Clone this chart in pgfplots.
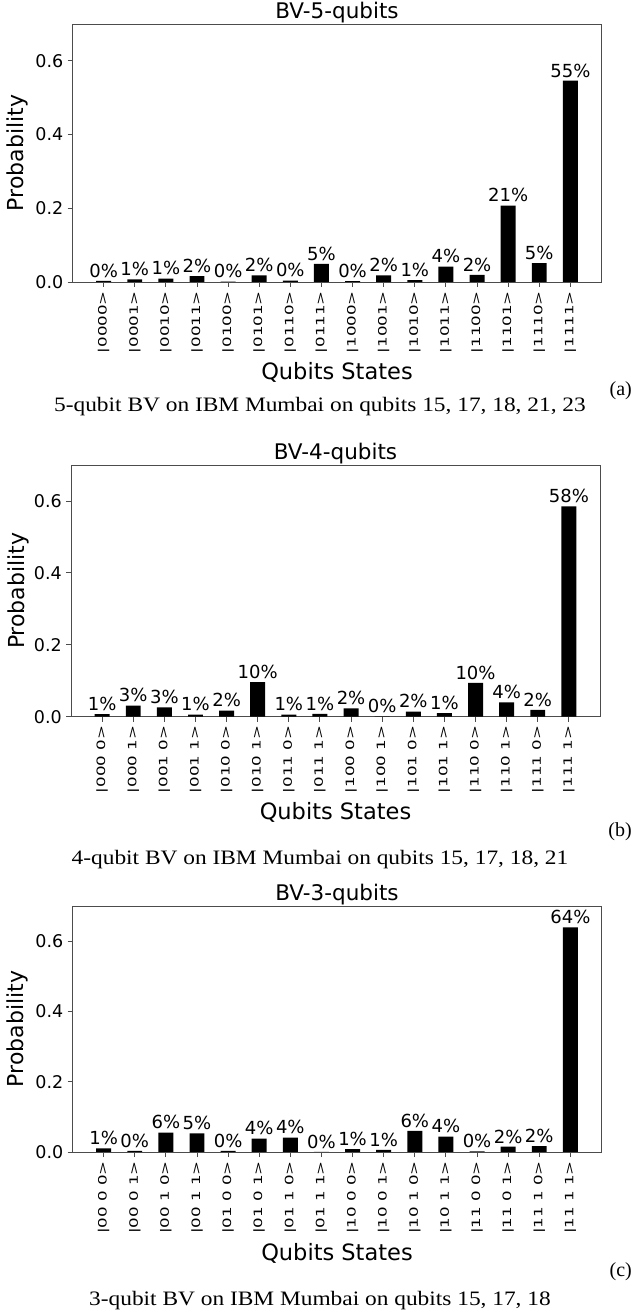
\documentclass[border=0pt]{standalone}
\usepackage{fontspec}
\usepackage{pgfplots}
\usepackage{pgfplotstable}
\pgfplotsset{compat=1.18}
\newfontfamily\dv{DejaVu Sans}
\newfontfamily\dvrot[FakeStretch=1.45]{DejaVu Sans}
\newfontfamily\capfont[FakeStretch=1.14]{Liberation Serif}
\newfontfamily\capplain{Liberation Serif}

\pgfplotstableread{
x y lab
0 0.003 0
1 0.007 1
2 0.009 1
3 0.016 2
4 0.001 0
5 0.018 2
6 0.004 0
7 0.049 5
8 0.002 0
9 0.018 2
10 0.005 1
11 0.042 4
12 0.019 2
13 0.207 21
14 0.051 5
15 0.546 55
}\tabA

\pgfplotstableread{
x y lab
0 0.007 1
1 0.031 3
2 0.026 3
3 0.006 1
4 0.017 2
5 0.096 10
6 0.006 1
7 0.008 1
8 0.023 2
9 0.001 0
10 0.014 2
11 0.010 1
12 0.094 10
13 0.040 4
14 0.019 2
15 0.585 58
}\tabB

\pgfplotstableread{
x y lab
0 0.010 1
1 0.003 0
2 0.055 6
3 0.053 5
4 0.003 0
5 0.038 4
6 0.041 4
7 0.0005 0
8 0.008 1
9 0.006 1
10 0.060 6
11 0.044 4
12 0.002 0
13 0.015 2
14 0.017 2
15 0.639 64
}\tabC

\pgfplotsset{
  bvstyle/.style={
    scale only axis, width=529pt,
    ybar, bar width=0.48,
    xmin=-1, xmax=16, ymin=0, ymax=0.7,
    xtick={0,...,15}, ytick={0,0.2,0.4,0.6},
    tick align=outside, xtick pos=bottom, ytick pos=left,
    major tick length=5pt,
    axis line style={draw=black!70, line width=0.9pt},
    tick style={draw=black!70, line width=0.9pt},
    yticklabel style={/pgf/number format/fixed, /pgf/number format/fixed zerofill, /pgf/number format/precision=1, /pgf/number format/assume math mode=true},
    every y tick label/.append style={font=\dv\fontsize{17.5}{20}\selectfont, anchor=east, inner sep=0pt},
    yticklabel shift=4pt,
    every x tick label/.append style={font=\dvrot\fontsize{11.5}{13}\selectfont, rotate=90, anchor=east, inner sep=0pt},
    xticklabel shift=4pt,
    ylabel={Probability},
    every axis y label/.style={font=\dv\fontsize{22}{24}\selectfont, rotate=90, anchor=base},
    xlabel={Qubits States},
    every axis x label/.style={font=\dv\fontsize{22.5}{24}\selectfont, anchor=base, at={(axis description cs:0.5,0)}},
    every axis title/.style={font=\dv\fontsize{21.5}{24}\selectfont, anchor=base, at={(axis description cs:0.5,1)}, yshift=5.7pt},
    point meta=explicit symbolic,
    nodes near coords={\pgfplotspointmeta\%},
    every node near coord/.append style={font=\dv\fontsize{18}{20}\selectfont, anchor=base, yshift=3.7pt, inner sep=0pt},
  }
}

\begin{document}
\begin{tikzpicture}
\useasboundingbox (0,0) rectangle (633pt,1316pt);

\begin{axis}[bvstyle, at={(72.5pt,1034pt)}, anchor=south west, height=258pt,
  title={BV-5-qubits},
  xticklabels={{|0000>},{|0001>},{|0010>},{|0011>},{|0100>},{|0101>},{|0110>},{|0111>},{|1000>},{|1001>},{|1010>},{|1011>},{|1100>},{|1101>},{|1110>},{|1111>}},
  xlabel style={yshift=-97.3pt},
  ylabel style={at={(axis description cs:-0.0917,0.5)}},
]
\addplot[fill=black, draw=none] table[x=x, y=y, meta=lab] {\tabA};
\end{axis}

\begin{axis}[bvstyle, at={(71pt,599.3pt)}, anchor=south west, height=251.7pt,
  title={BV-4-qubits},
  xticklabels={{|000 0>},{|000 1>},{|001 0>},{|001 1>},{|010 0>},{|010 1>},{|011 0>},{|011 1>},{|100 0>},{|100 1>},{|101 0>},{|101 1>},{|110 0>},{|110 1>},{|111 0>},{|111 1>}},
  xlabel style={yshift=-103.3pt},
  ylabel style={at={(axis description cs:-0.0888,0.5)}},
]
\addplot[fill=black, draw=none] table[x=x, y=y, meta=lab] {\tabB};
\end{axis}

\begin{axis}[bvstyle, at={(72.5pt,164pt)}, anchor=south west, height=246pt,
  title={BV-3-qubits},
  xticklabels={{|00 0 0>},{|00 0 1>},{|00 1 0>},{|00 1 1>},{|01 0 0>},{|01 0 1>},{|01 1 0>},{|01 1 1>},{|10 0 0>},{|10 0 1>},{|10 1 0>},{|10 1 1>},{|11 0 0>},{|11 0 1>},{|11 1 0>},{|11 1 1>}},
  xlabel style={yshift=-108pt},
  ylabel style={at={(axis description cs:-0.0917,0.5)}},
]
\addplot[fill=black, draw=none] table[x=x, y=y, meta=lab] {\tabC};
\end{axis}

\node[font=\capfont\fontsize{20.5}{24}\selectfont, anchor=base] at (320pt,904.3pt) {5-qubit BV on IBM Mumbai on qubits 15, 17, 18, 21, 23};
\node[font=\capfont\fontsize{20.5}{24}\selectfont, anchor=base] at (320pt,451pt) {4-qubit BV on IBM Mumbai on qubits 15, 17, 18, 21};
\node[font=\capfont\fontsize{20.5}{24}\selectfont, anchor=base] at (320pt,10pt) {3-qubit BV on IBM Mumbai on qubits 15, 17, 18};
\node[font=\capplain\fontsize{20}{24}\selectfont, anchor=base east, inner sep=0pt] at (632pt,920pt) {(a)};
\node[font=\capplain\fontsize{20}{24}\selectfont, anchor=base east, inner sep=0pt] at (632pt,479.3pt) {(b)};
\node[font=\capplain\fontsize{20}{24}\selectfont, anchor=base east, inner sep=0pt] at (632pt,39.3pt) {(c)};
\end{tikzpicture}
\end{document}
